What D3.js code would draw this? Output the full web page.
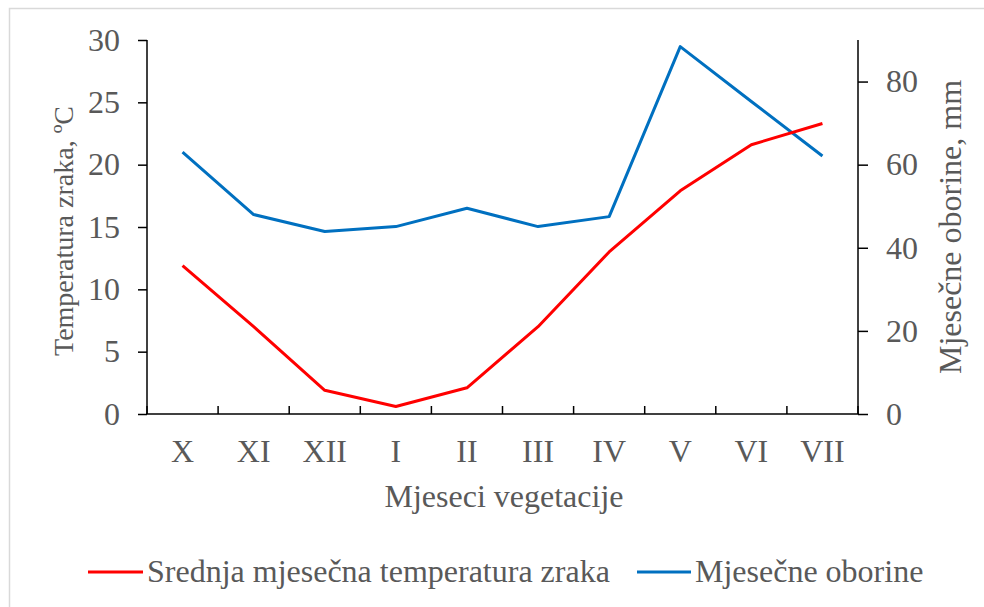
<!DOCTYPE html>
<html><head><meta charset="utf-8">
<script src="https://cdn.jsdelivr.net/npm/d3@7"></script>
<style>body{margin:0;background:#fff}svg{display:block}text{font-family:"Liberation Serif","Times New Roman",serif;fill:#595959}</style>
</head><body><svg id="c" width="984" height="607"></svg>
<script>
const months = ["X","XI","XII","I","II","III","IV","V","VI","VII"];
const temperature = [11.9, 7.0, 1.9, 0.6, 2.1, 7.0, 13.0, 17.9, 21.6, 23.3];
const precipitation = [63.0, 48.0, 43.9, 45.1, 49.5, 45.1, 47.5, 88.4, 75.2, 62.1];
const tempTicks = [0,5,10,15,20,25,30];
const precTicks = [0,20,40,60,80];
const seriesNames = ["Srednja mjesečna temperatura zraka","Mjesečne oborine"];

const svg = d3.select("#c");
svg.append("rect").attr("x",9.5).attr("y",8.5).attr("width",1000).attr("height",1000)
  .attr("fill","none").attr("stroke","#d9d9d9").attr("stroke-width",1.5);

const L=147, R=858, T=40, B=414;
const x = d3.scaleBand().domain(months).range([L,R]);
const yT = d3.scaleLinear().domain([0,30]).range([B,T]);
const yP = d3.scaleLinear().domain([0,90]).range([B,T]);
const FS = 32;

const gl = svg.append("g").attr("transform",`translate(${L},0)`)
  .call(d3.axisLeft(yT).tickValues(tempTicks).tickSize(9).tickPadding(18));
const gr = svg.append("g").attr("transform",`translate(${R},0)`)
  .call(d3.axisRight(yP).tickValues(precTicks).tickSize(10).tickPadding(18));
[gl,gr].forEach(g=>{
  g.select(".domain").attr("stroke","#000").attr("stroke-width",1.5).attr("d",`M0,${T}V${B}`);
  g.selectAll(".tick line").attr("stroke","#000").attr("stroke-width",1.5);
  g.selectAll(".tick text").attr("font-size",FS).attr("fill","#595959").attr("font-family","Liberation Serif");
});

const gb = svg.append("g").attr("transform",`translate(0,${B})`);
gb.append("line").attr("x1",L-1).attr("x2",R+1).attr("stroke","#000").attr("stroke-width",1.5);
const bounds = months.map(m=>x(m)).concat([R]);
gb.selectAll("line.tk").data(bounds).join("line").attr("class","tk")
  .attr("x1",d=>d).attr("x2",d=>d).attr("y1",0).attr("y2",-8).attr("stroke","#000").attr("stroke-width",1.5);
gb.selectAll("text").data(months).join("text")
  .attr("x",d=>x(d)+x.bandwidth()/2).attr("y",48).attr("text-anchor","middle")
  .attr("font-size",FS).text(d=>d);

const lineT = d3.line().x((d,i)=>x(months[i])+x.bandwidth()/2).y(d=>yT(d));
const lineP = d3.line().x((d,i)=>x(months[i])+x.bandwidth()/2).y(d=>yP(d));
svg.append("path").datum(precipitation).attr("d",lineP).attr("fill","none")
  .attr("stroke","#0070c0").attr("stroke-width",3).attr("stroke-linejoin","round");
svg.append("path").datum(temperature).attr("d",lineT).attr("fill","none")
  .attr("stroke","#ff0000").attr("stroke-width",3).attr("stroke-linejoin","round");

svg.append("text").attr("transform","translate(73,231) rotate(-90)").attr("text-anchor","middle")
  .attr("font-size",28).text("Temperatura zraka, ºC");
svg.append("text").attr("transform","translate(961,227) rotate(-90)").attr("text-anchor","middle")
  .attr("font-size",FS).text("Mjesečne oborine, mm");
svg.append("text").attr("x",504).attr("y",507).attr("text-anchor","middle").attr("font-size",FS).text("Mjeseci vegetacije");

const leg = [{n:seriesNames[0],c:"#ff0000",x1:88,x2:143},{n:seriesNames[1],c:"#0070c0",x1:637,x2:691}];
leg.forEach(d=>{
  svg.append("line").attr("x1",d.x1).attr("x2",d.x2).attr("y1",572).attr("y2",572).attr("stroke",d.c).attr("stroke-width",3);
  svg.append("text").attr("x",d.x2+4).attr("y",582).attr("font-size",FS).text(d.n);
});
</script></body></html>
